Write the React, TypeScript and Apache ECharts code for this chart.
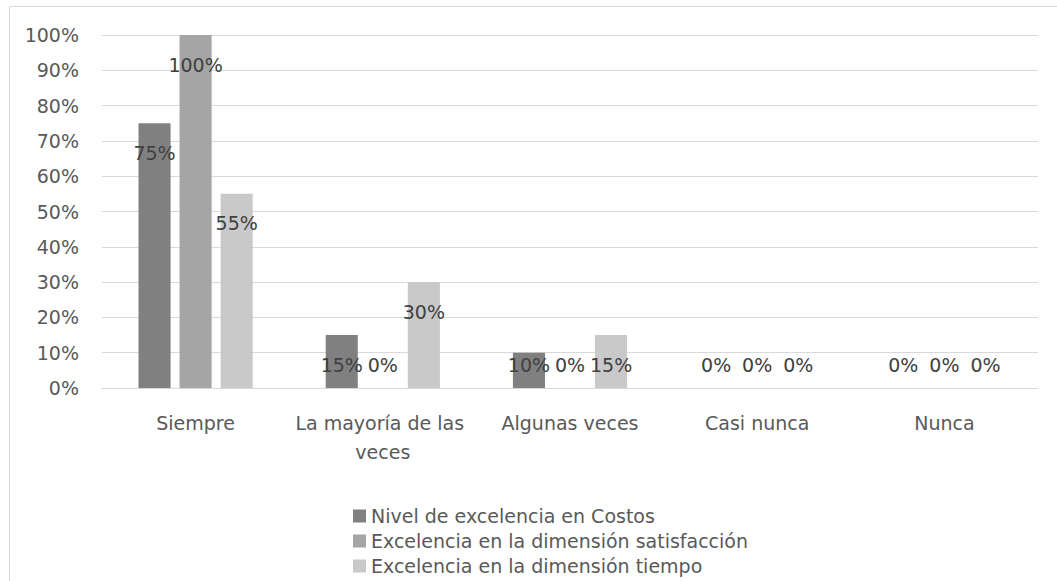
import React, { useEffect, useRef } from "react";
import * as echarts from "echarts";

const categories = ["Siempre", "La mayoría de las veces", "Algunas veces", "Casi nunca", "Nunca"];
const seriesNames = [
  "Nivel de excelencia en Costos",
  "Excelencia en la dimensión satisfacción",
  "Excelencia en la dimensión tiempo",
];
const costos = [0.75, 0.15, 0.1, 0, 0];
const satisfaccion = [1, 0, 0, 0, 0];
const tiempo = [0.55, 0.3, 0.15, 0, 0];
const colors = ["#808080", "#a5a5a5", "#c9c9c9"];

const FONT = "DejaVu Sans";
const GRID_H = 353;

function items(values: number[]) {
  return values.map((v) => ({
    value: v,
    label: {
      position: ["50%", Math.min(29.5, v * GRID_H - 23)],
    },
  }));
}

export default function App() {
  const ref = useRef<HTMLDivElement>(null);
  useEffect(() => {
    if (!ref.current) return;
    const chart = echarts.init(ref.current, undefined, { renderer: "svg" });
    const all = [costos, satisfaccion, tiempo];
    chart.setOption({
      animation: false,
      backgroundColor: "#ffffff",
      graphic: [
        {
          type: "rect",
          shape: { x: 9.5, y: 6.5, width: 1100, height: 700 },
          style: { fill: "none", stroke: "#d9d9d9", lineWidth: 1 },
          silent: true,
        },
      ],
      grid: { left: 102, right: 19, top: 35, height: GRID_H },
      legend: {
        orient: "vertical",
        left: 353,
        top: 503.5,
        height: 120,
        padding: 0,
        itemWidth: 13,
        itemHeight: 13,
        itemGap: 0,
        icon: "rect",
        textStyle: { fontFamily: FONT, fontSize: 19, color: "#595959", lineHeight: 25 },
        data: seriesNames,
      },
      xAxis: {
        type: "category",
        data: categories,
        axisLine: { lineStyle: { color: "#d9d9d9" } },
        axisTick: { show: false },
        axisLabel: {
          fontFamily: FONT,
          fontSize: 19,
          color: "#595959",
          margin: 20,
          lineHeight: 29,
          width: 192,
          overflow: "break",
          interval: 0,
        },
      },
      yAxis: {
        type: "value",
        min: 0,
        max: 1,
        interval: 0.1,
        axisLine: { show: false },
        axisTick: { show: false },
        splitLine: { lineStyle: { color: "#d9d9d9" } },
        axisLabel: {
          fontFamily: FONT,
          fontSize: 19,
          color: "#595959",
          margin: 23,
          formatter: (v: number) => Math.round(v * 100) + "%",
        },
      },
      series: all.map((vals, i) => ({
        type: "bar",
        name: seriesNames[i],
        data: items(vals),
        itemStyle: { color: colors[i] },
        barGap: "28%",
        barCategoryGap: "39%",
        label: {
          show: true,
          align: "center",
          verticalAlign: "middle",
          fontFamily: FONT,
          fontSize: 19,
          color: "#404040",
          formatter: (p: any) => Math.round(p.value * 100) + "%",
        },
      })),
    });
    return () => chart.dispose();
  }, []);
  return (
    <div
      ref={ref}
      style={{ position: "fixed", left: 0, top: 0, width: 1057, height: 581 }}
    />
  );
}
